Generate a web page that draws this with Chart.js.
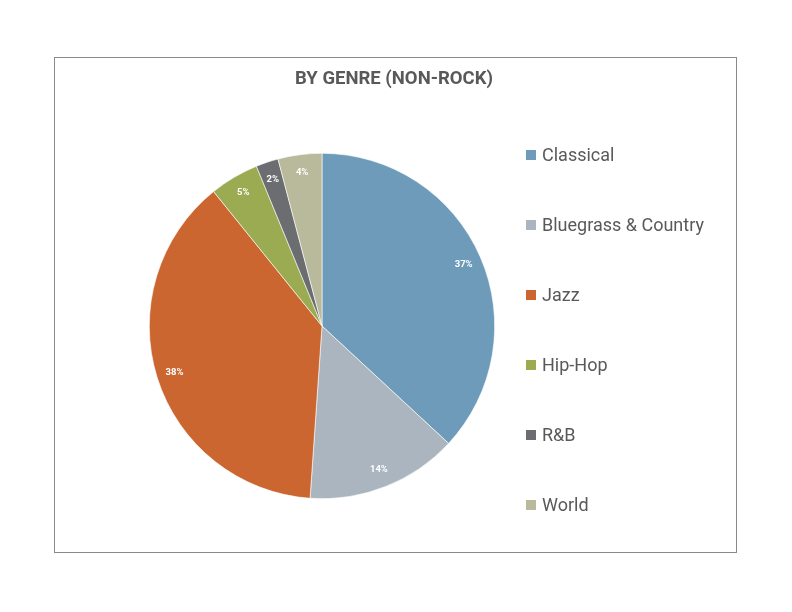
<!DOCTYPE html>
<html>
<head>
<meta charset="utf-8">
<script src="https://cdn.jsdelivr.net/npm/chart.js@4.4.1/dist/chart.umd.min.js"></script>
<style>
  html, body { margin: 0; padding: 0; background: #fff; }
  #wrap { position: relative; width: 792px; height: 612px; }
  #frame { position: absolute; left: 54px; top: 57px; width: 681px; height: 494px; border: 1px solid #8a8a8a; }
  canvas { position: absolute; left: 0; top: 0; }
</style>
</head>
<body>
<div id="wrap">
  <div id="frame"></div>
  <canvas id="c" width="792" height="612"></canvas>
</div>
<script>
const chartTitle = 'BY GENRE (NON-ROCK)';
const categories = ['Classical', 'Bluegrass & Country', 'Jazz', 'Hip-Hop', 'R&B', 'World'];
const shares = [36.9, 14.2, 38.1, 4.6, 2.1, 4.1];
const colors = ['#6f9bba', '#aab5bf', '#cb6631', '#9bab52', '#6b6d70', '#b9b99b'];

const overlay = {
  id: 'overlay',
  afterDatasetsDraw(chart) {
    const ctx = chart.ctx;
    const meta = chart.getDatasetMeta(0);
    const data = chart.data.datasets[0].data;
    const total = data.reduce((a, b) => a + b, 0);
    ctx.save();
    // percentage labels
    ctx.fillStyle = '#ffffff';
    ctx.font = 'bold 9.5px Roboto, "Liberation Sans", sans-serif';
    ctx.textAlign = 'center';
    ctx.textBaseline = 'middle';
    meta.data.forEach((arc, i) => {
      const p = arc.getProps(['x', 'y', 'startAngle', 'endAngle', 'outerRadius'], true);
      const mid = (p.startAngle + p.endAngle) / 2;
      const r = p.outerRadius * 0.895;
      ctx.fillText(Math.round(data[i] / total * 100) + '%', p.x + Math.cos(mid) * r, p.y + Math.sin(mid) * r);
    });
    // title
    ctx.fillStyle = '#595959';
    ctx.font = 'bold 18.5px Roboto, "Liberation Sans", sans-serif';
    ctx.fillText(chartTitle, 394, 79);
    // legend
    ctx.textAlign = 'left';
    ctx.font = '18px Roboto, "Liberation Sans", sans-serif';
    chart.data.labels.forEach((lab, i) => {
      const y = 155 + i * 70;
      ctx.fillStyle = colors[i];
      ctx.fillRect(526, y - 5, 10, 10);
      ctx.fillStyle = '#595959';
      ctx.fillText(lab, 542, y + 1);
    });
    ctx.restore();
  }
};

new Chart(document.getElementById('c'), {
  type: 'pie',
  data: {
    labels: categories,
    datasets: [{
      data: shares,
      backgroundColor: colors,
      borderColor: '#ffffff',
      borderWidth: 0.6
    }]
  },
  options: {
    responsive: false,
    animation: false,
    layout: { padding: { left: 149, right: 297, top: 153, bottom: 113 } },
    plugins: {
      legend: { display: false },
      title: { display: false },
      tooltip: { enabled: false }
    }
  },
  plugins: [overlay]
});
</script>
</body>
</html>
